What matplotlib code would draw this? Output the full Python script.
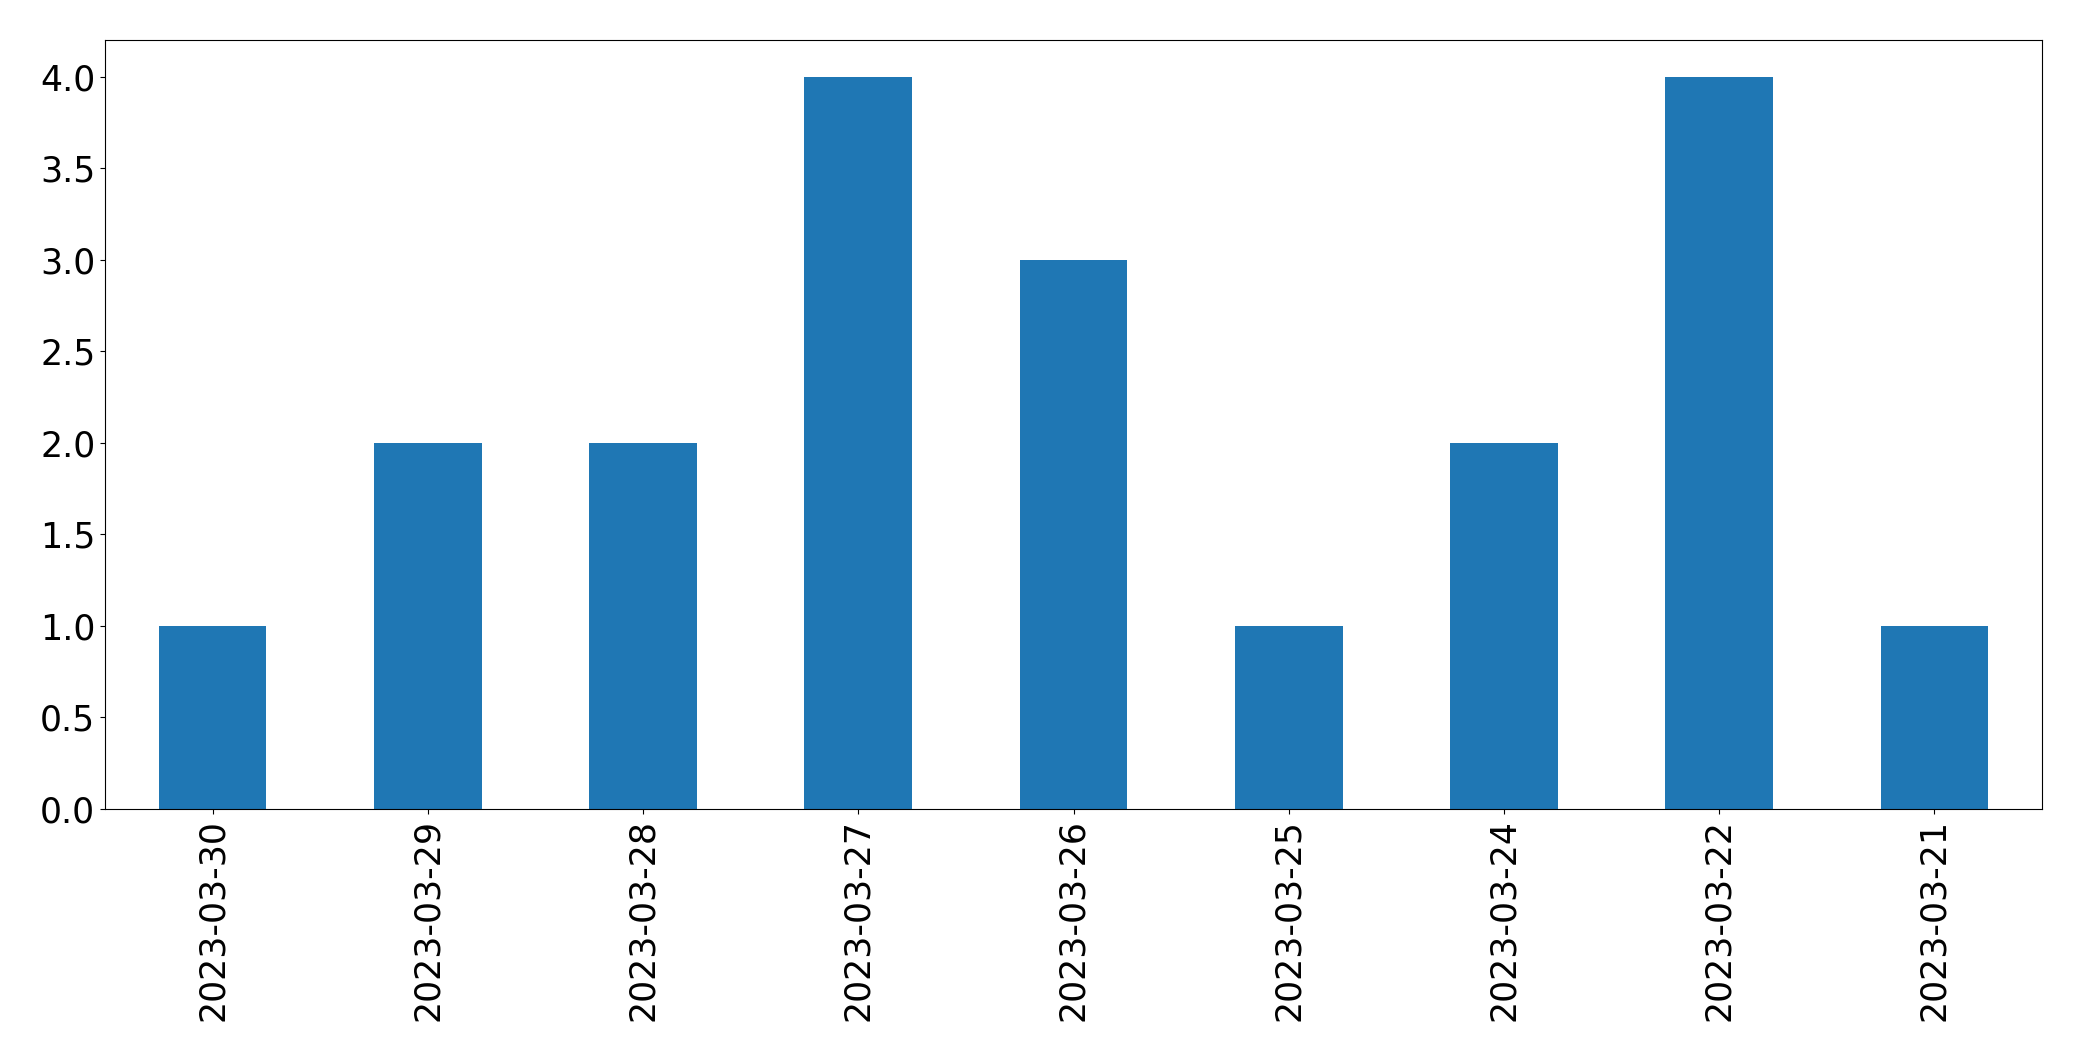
import matplotlib
matplotlib.use("Agg")
import matplotlib.pyplot as plt
import numpy as np

dates = ["2023-03-30", "2023-03-29", "2023-03-28", "2023-03-27", "2023-03-26",
         "2023-03-25", "2023-03-24", "2023-03-22", "2023-03-21"]
counts = [1, 2, 2, 4, 3, 1, 2, 4, 1]

fig = plt.figure(figsize=(20.82, 10.61), dpi=100)
ax = fig.add_axes([105/2082, 1 - 809/1061, (2042-105)/2082, (809-40)/1061])
x = np.arange(len(dates))
ax.bar(x, counts, width=0.5, color="#1f77b4")
ax.set_xticks(x)
ax.set_xticklabels(dates, rotation=90)
ax.set_xlim(-0.5, len(dates) - 0.5)
ax.tick_params(labelsize=25)
fig.savefig("out.png", dpi=100)
